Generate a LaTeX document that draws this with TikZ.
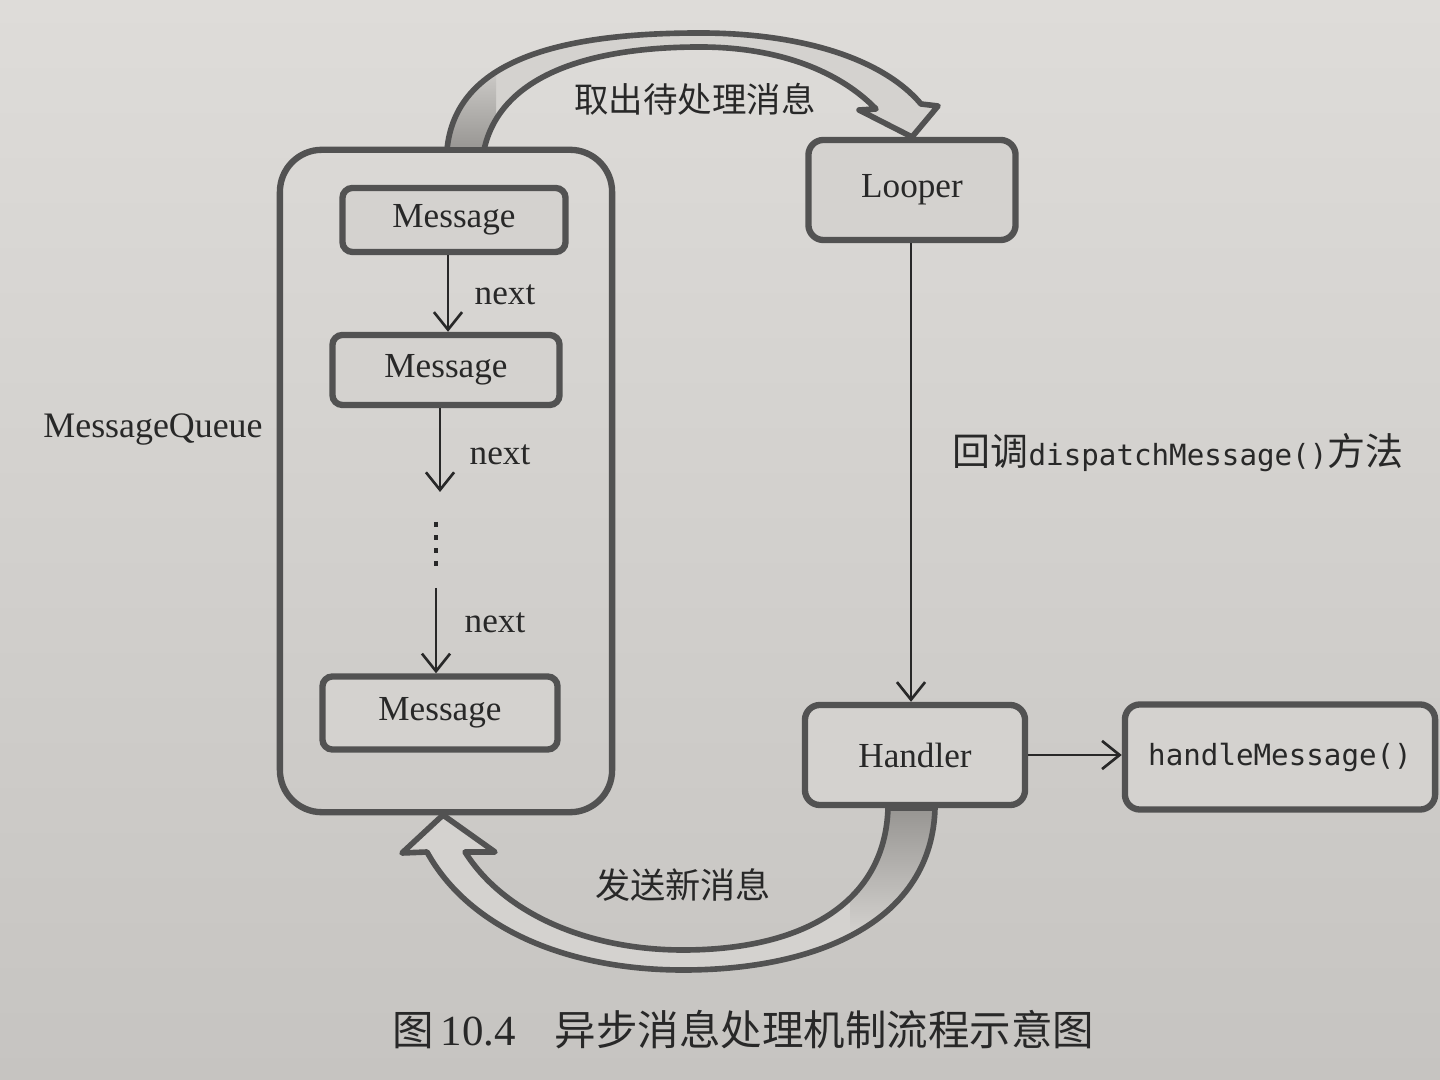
\documentclass[tikz,border=0pt]{standalone}
\usepackage{fontspec}
\setmainfont{Liberation Serif}
\newfontfamily\cjk{Noto Sans CJK SC}
\newfontfamily\monof{DejaVu Sans Mono}
\usetikzlibrary{arrows.meta}
\definecolor{paper}{RGB}{212,210,207}
\definecolor{papertop}{RGB}{222,220,217}
\definecolor{paperbot}{RGB}{198,196,193}
\definecolor{ink}{RGB}{82,82,82}
\definecolor{txt}{RGB}{40,40,40}
\definecolor{shadegray}{RGB}{150,148,145}
\def\TopArrowPath{(447,150) .. controls (455,60) and (560,33) .. (700,33) .. controls (800,33) and (882,58) .. (921,104) -- (938,106) -- (912,137) -- (859,110) -- (876,109) .. controls (840,72) and (780,47) .. (700,47) .. controls (590,47) and (500,75) .. (484,150) -- cycle}
\def\BotArrowPath{(935,808) .. controls (932,920) and (820,970) .. (683,970) .. controls (570,970) and (470,930) .. (427,852) -- (402,853) -- (443,815) -- (495,852) -- (465,852) .. controls (505,915) and (590,950) .. (683,950) .. controls (800,950) and (885,905) .. (888,808) -- cycle}
\begin{document}
\begin{tikzpicture}[x=0.01cm,y=-0.01cm,
  box/.style={draw=ink, line width=1.8pt, rounded corners=0.1cm, fill=paper, text=txt,
    font=\fontsize{10}{12}\selectfont, inner sep=0pt},
  rbox/.style={box, rounded corners=0.15cm},
  qbox/.style={draw=ink, line width=1.8pt, rounded corners=0.42cm, inner sep=0pt},
  conn/.style={draw=txt, line width=0.75pt, -{Straight Barb[length=5pt,width=8pt]}},
  lbl/.style={text=txt, font=\fontsize{10}{12}\selectfont, inner sep=1pt},
  blk/.style={draw=ink, line width=1.6pt, line join=round},
]
\shade[top color=papertop, bottom color=paperbot] (0,0) rectangle (1440,1080);
\useasboundingbox (0,0) rectangle (1440,1080);

% message queue
\node[qbox, minimum width=3.32cm, minimum height=6.62cm] (queue) at (446,481) {};
\node[lbl, font=\fontsize{10.2}{12}\selectfont] (mqlabel) at (153,430) {MessageQueue};

\node[box, minimum width=2.23cm, minimum height=0.64cm] (m1) at (454,220) {Message};
\node[box, minimum width=2.27cm, minimum height=0.70cm] (m2) at (446,370) {Message};
\node[box, minimum width=2.35cm, minimum height=0.73cm] (m3) at (440,713) {Message};

\coordinate (a2end) at (440,492);
\coordinate (dtop) at (436,522);
\coordinate (dbot) at (436,566);
\coordinate (a3start) at (436,588);

\draw[conn] (m1.south -| 448,0) -- (m2.north -| 448,0);
\draw[conn] (m2.south -| a2end) -- (a2end);
\draw[txt, line width=1.3pt, dash pattern=on 1.3pt off 2.4pt] (dtop) -- (dbot);
\draw[conn] (a3start) -- (a3start |- m3.north);

\node[lbl] (n1) at (505,295) {next};
\node[lbl] (n2) at (500,455) {next};
\node[lbl] (n3) at (495,623) {next};

% right column
\node[rbox, minimum width=2.07cm, minimum height=1.0cm] (looper) at (912,190) {Looper};
\node[rbox, minimum width=2.2cm, minimum height=1.0cm] (handler) at (915,755) {Handler};
\node[rbox, minimum width=3.1cm, minimum height=1.05cm, font=\monof\fontsize{8.3}{10}\selectfont] (hm) at (1280,757) {handleMessage()};

\draw[conn] (looper.south -| 911,0) -- (handler.north -| 911,0);
\draw[conn] (handler.east) -- (handler.east -| hm.west);

\node[lbl, font=\fontsize{8.3}{10}\selectfont] (disp) at (1178,453)
  {{\cjk\fontsize{10.8}{12}\selectfont 回调}{\monof dispatchMessage()}{\cjk\fontsize{10.8}{12}\selectfont 方法}};

% top curved block arrow
\fill[paper] \TopArrowPath;
\begin{scope}
  \clip \TopArrowPath;
  \shade[top color=paper, bottom color=shadegray] (440,60) rectangle (496,152);
\end{scope}
\path[blk] \TopArrowPath;
\node[lbl, font=\cjk\fontsize{9.8}{12}\selectfont] (toplabel) at (695,99) {取出待处理消息};

% bottom curved block arrow
\fill[paper] \BotArrowPath;
\begin{scope}
  \clip \BotArrowPath;
  \shade[top color=shadegray, bottom color=paper] (850,806) rectangle (940,935);
\end{scope}
\path[blk] \BotArrowPath;
\node[lbl, font=\cjk\fontsize{10}{12}\selectfont] (botlabel) at (683,885) {发送新消息};

% caption
\node[lbl, font=\fontsize{12.2}{14}\selectfont, anchor=west] (caption) at (388,1030)
  {{\cjk\fontsize{11.8}{14}\selectfont 图}\,10.4\hspace{0.9em}{\cjk\fontsize{11.8}{14}\selectfont 异步消息处理机制流程示意图}};
\end{tikzpicture}
\end{document}
